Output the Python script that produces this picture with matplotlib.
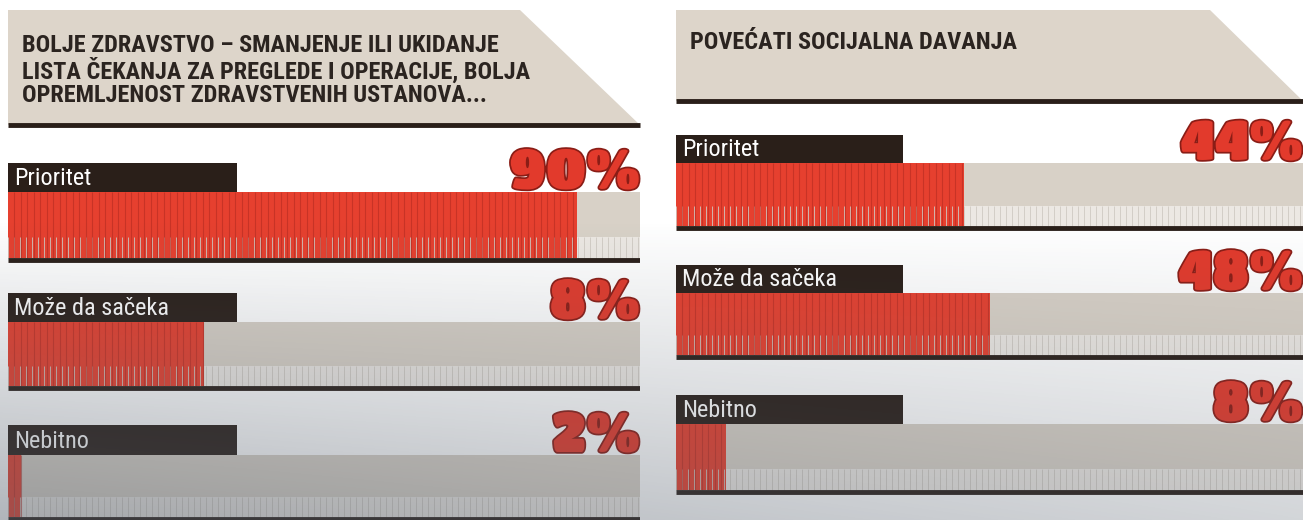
import numpy as np
import matplotlib
matplotlib.use("Agg")
import matplotlib.pyplot as plt
from matplotlib.patches import Polygon, Rectangle
import matplotlib.patheffects as pe

W, H = 1303, 520

# --- data ---
titles = ["BOLJE ZDRAVSTVO – SMANJENJE ILI UKIDANJE\n"
          "LISTA ČEKANJA ZA PREGLEDE I OPERACIJE, BOLJA\n"
          "OPREMLJENOST ZDRAVSTVENIH USTANOVA...",
          "POVEĆATI SOCIJALNA DAVANJA"]
categories = ["Prioritet", "Može da sačeka", "Nebitno"]
pct_left = [90, 8, 2]
pct_right = [44, 48, 8]
# bar lengths as drawn in the source (left 8% bar is drawn longer than 8)
bar_left = [90, 31, 2]
bar_right = [46, 50, 8]

# panel layout in pixels
panels = [
    dict(x0=8, x1=640, slant=520, rule=125, label_w=229, title_y=34,
         label_top=[163, 293, 425], bar_top=[192, 322, 455], bar_bot=[258, 386, 517]),
    dict(x0=676, x1=1303, slant=1210, rule=101, label_w=227, title_y=31,
         label_top=[135, 265, 395], bar_top=[163, 293, 424], bar_bot=[226, 355, 490]),
]

RED = "#e6402f"
DARK = "#2a1f19"
BEIGE = "#ddd5ca"
TRACK = "#d8d1c7"
TRACK_LOW = "#ece8e3"

cond_font = ["Roboto Condensed", "Asap Condensed", "Archivo Narrow", "DejaVu Sans"]
big_font = ["Titan One", "DejaVu Sans"]

fig = plt.figure(figsize=(W / 100, H / 100), dpi=100)
fig.patch.set_facecolor("white")

bg = fig.add_axes([0, 0, 1, 1])
bg.set_xlim(0, W)
bg.set_ylim(H, 0)
bg.axis("off")

for p, title in zip(panels, titles):
    hdr = Polygon([(p["x0"], 10), (p["slant"], 10), (p["x1"], p["rule"]), (p["x0"], p["rule"])],
                  closed=True, facecolor=BEIGE, edgecolor="none")
    bg.add_patch(hdr)
    bg.plot([p["x0"], p["x1"]], [p["rule"], p["rule"]], color=DARK, lw=3.5, solid_capstyle="butt")
    bg.text(p["x0"] + 14, p["title_y"], title, family=cond_font, weight="bold", fontsize=17.5,
            color="#2b2420", va="top", ha="left", linespacing=1.03)

for p, pcts, bars in zip(panels, [pct_left, pct_right], [bar_left, bar_right]):
    ax = fig.add_axes([p["x0"] / W, 0, (p["x1"] - p["x0"]) / W, 1])
    ax.set_xlim(0, 100)
    ax.set_ylim(H, 0)
    ax.axis("off")
    px = 100 / (p["x1"] - p["x0"])  # data units per pixel
    for i, (cat, pct, val) in enumerate(zip(categories, pcts, bars)):
        top, bot = p["bar_top"][i], p["bar_bot"][i]
        h = bot - top
        split = top + h * 0.68
        # grey track
        ax.barh(top, 100, height=split - top, align="edge", color=TRACK, lw=0)
        ax.barh(split, 100, height=bot - split, align="edge", color=TRACK_LOW, lw=0)
        ax.vlines(np.arange(0, 100, 6 * px), split, bot, color="#cfc9c2", lw=0.6)
        # red value bar
        ax.barh(top, val, height=h, align="edge", color=RED, lw=0)
        ax.vlines(np.arange(6 * px, val, 6.5 * px), top, bot, color="#b52b20", lw=0.8, alpha=0.6)
        ax.hlines(bot + 1.5, 0, 100, color=DARK, lw=3.5)
        # category label box
        ax.add_patch(Rectangle((0, p["label_top"][i]), p["label_w"] * px, top - p["label_top"][i],
                               facecolor=DARK, edgecolor="none"))
        ax.text(6 * px, (p["label_top"][i] + top) / 2 + 1, cat, family=cond_font, fontsize=17.5,
                color="white", va="center", ha="left")
        # big percentage
        t = ax.text(100, top - 3, f"{pct}%", fontsize=40, color="#e23a2c",
                    ha="right", va="baseline", family=big_font)
        t.set_path_effects([pe.Stroke(linewidth=2.5, foreground="#8a1d16"), pe.Normal()])

# photographic shading toward the bottom
ov = fig.add_axes([0, 0, 1, 1])
ov.axis("off")
yy, xx = np.mgrid[0:H, 0:W]
alpha = np.clip((yy - 220) / 300, 0, 1) * (0.46 - 0.2 * xx / W)
shade = np.zeros((H, W, 4))
shade[..., 0] = 0.33
shade[..., 1] = 0.37
shade[..., 2] = 0.42
shade[..., 3] = alpha
ov.imshow(shade, extent=(0, W, H, 0), aspect="auto")
ov.set_xlim(0, W)
ov.set_ylim(H, 0)

fig.savefig("out.png", dpi=100)
